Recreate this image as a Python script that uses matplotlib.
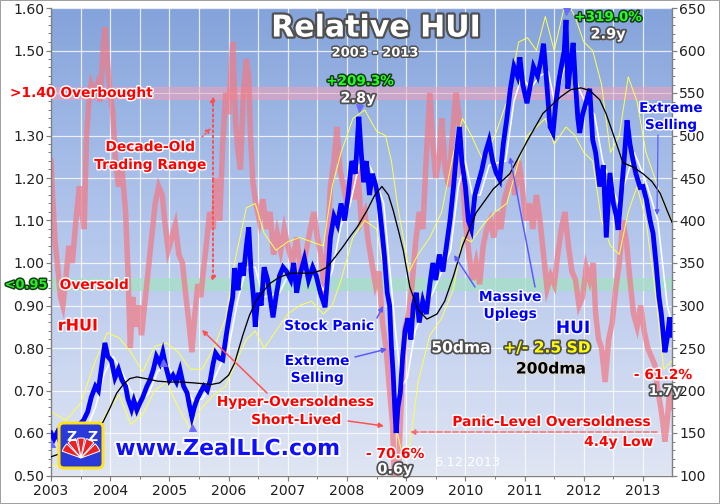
import numpy as np
import matplotlib
matplotlib.use('Agg')
import matplotlib.pyplot as plt
import matplotlib.patheffects as pe
from matplotlib.colors import LinearSegmentedColormap
from matplotlib.patches import FancyBboxPatch, Wedge
from matplotlib.transforms import IdentityTransform

plt.rcParams['font.family'] = 'DejaVu Sans'

# ---- data (decimal years) ----
hui_t = [2003.00, 2003.05, 2003.10, 2003.18, 2003.25, 2003.32, 2003.40, 2003.48, 2003.55, 2003.62,
         2003.68, 2003.75, 2003.80, 2003.85, 2003.91, 2003.96, 2004.02, 2004.08, 2004.14, 2004.20,
         2004.26, 2004.30, 2004.36, 2004.40, 2004.45, 2004.50, 2004.55, 2004.62, 2004.67, 2004.73,
         2004.78, 2004.84, 2004.89, 2004.94, 2005.00, 2005.06, 2005.12, 2005.18, 2005.24, 2005.30,
         2005.34, 2005.38, 2005.42, 2005.47, 2005.52, 2005.58, 2005.64, 2005.69, 2005.74, 2005.78,
         2005.84, 2005.90, 2005.96, 2006.02, 2006.07, 2006.10, 2006.13, 2006.16, 2006.20, 2006.25,
         2006.30, 2006.34, 2006.38, 2006.42, 2006.45, 2006.50, 2006.55, 2006.60, 2006.66, 2006.70,
         2006.75, 2006.80, 2006.86, 2006.92, 2006.98, 2007.05, 2007.10, 2007.15, 2007.20, 2007.28,
         2007.35, 2007.42, 2007.48, 2007.55, 2007.63, 2007.68, 2007.72, 2007.78, 2007.84, 2007.90,
         2007.96, 2008.02, 2008.08, 2008.14, 2008.20, 2008.24, 2008.28, 2008.33, 2008.38, 2008.43,
         2008.49, 2008.54, 2008.58, 2008.63, 2008.68, 2008.72, 2008.75, 2008.78, 2008.81, 2008.83,
         2008.86, 2008.90, 2008.94, 2008.98, 2009.03, 2009.08, 2009.12, 2009.17, 2009.22, 2009.28,
         2009.34, 2009.40, 2009.45, 2009.50, 2009.56, 2009.62, 2009.68, 2009.74, 2009.80, 2009.85,
         2009.90, 2009.94, 2010.00, 2010.05, 2010.10, 2010.16, 2010.22, 2010.28, 2010.34, 2010.40,
         2010.46, 2010.52, 2010.58, 2010.64, 2010.70, 2010.76, 2010.82, 2010.88, 2010.92, 2010.97,
         2011.04, 2011.10, 2011.15, 2011.22, 2011.28, 2011.32, 2011.37, 2011.43, 2011.48, 2011.53,
         2011.58, 2011.62, 2011.67, 2011.70, 2011.73, 2011.77, 2011.82, 2011.86, 2011.90, 2011.93,
         2011.98, 2012.05, 2012.10, 2012.15, 2012.20, 2012.27, 2012.33, 2012.38, 2012.44, 2012.50,
         2012.55, 2012.58, 2012.63, 2012.68, 2012.73, 2012.78, 2012.83, 2012.88, 2012.95, 2013.00,
         2013.06, 2013.12, 2013.17, 2013.22, 2013.27, 2013.31, 2013.34, 2013.37, 2013.41, 2013.45,
         2013.49]
hui_v = [150, 143, 150, 135, 125, 130, 140, 160, 165, 175,
         192, 205, 200, 225, 256, 240, 235, 215, 225, 212,
         205, 190, 178, 188, 177, 185, 192, 205, 212, 225,
         240, 232, 245, 228, 212, 218, 210, 224, 205, 197,
         182, 169, 180, 190, 197, 205, 200, 212, 232, 244,
         238, 236, 265, 291, 310, 344, 330, 318, 350, 335,
         370, 392, 340, 310, 275, 315, 300, 345, 330, 310,
         286, 310, 335, 345, 340, 330, 350, 315, 335, 355,
         330, 345, 335, 315, 298, 340, 380, 405, 395, 420,
         400, 430, 470, 455, 522, 480, 445, 470, 430, 455,
         440, 420, 395, 360, 315, 300, 252, 220, 175, 150,
         180, 197, 240, 270, 285, 260, 300, 315, 280, 305,
         290, 325, 350, 330, 360, 340, 370, 400, 440, 480,
         510, 470, 440, 400, 390, 430, 445, 460, 480, 494,
         470, 456, 448, 490, 520, 555, 581, 570, 592, 560,
         538, 560, 581, 570, 590, 608, 565, 510, 503, 540,
         565, 581, 600, 636, 555, 580, 609, 560, 520, 503,
         525, 542, 555, 495, 480, 440, 465, 380, 456, 420,
         405, 389, 430, 470, 518, 490, 471, 455, 439, 440,
         424, 400, 385, 350, 310, 290, 268, 245, 262, 286,
         265]

rhui_t = [2003.00, 2003.03, 2003.07, 2003.12, 2003.16, 2003.20, 2003.25, 2003.30, 2003.36, 2003.42,
          2003.48, 2003.52, 2003.56, 2003.60, 2003.64, 2003.68, 2003.73, 2003.78, 2003.83, 2003.88,
          2003.91, 2003.95, 2004.00, 2004.04, 2004.09, 2004.14, 2004.20, 2004.26, 2004.30, 2004.34,
          2004.38, 2004.43, 2004.48, 2004.53, 2004.58, 2004.64, 2004.70, 2004.76, 2004.82, 2004.88,
          2004.92, 2004.98, 2005.04, 2005.10, 2005.16, 2005.22, 2005.28, 2005.33, 2005.38, 2005.43,
          2005.48, 2005.53, 2005.58, 2005.63, 2005.68, 2005.74, 2005.79, 2005.85, 2005.90, 2005.95,
          2006.00, 2006.04, 2006.07, 2006.12, 2006.16, 2006.20, 2006.25, 2006.30, 2006.34, 2006.37,
          2006.41, 2006.46, 2006.52, 2006.58, 2006.64, 2006.70, 2006.76, 2006.82, 2006.88, 2006.94,
          2007.00, 2007.08, 2007.15, 2007.22, 2007.30, 2007.38, 2007.44, 2007.50, 2007.56, 2007.62,
          2007.67, 2007.72, 2007.78, 2007.83, 2007.88, 2007.94, 2008.00, 2008.06, 2008.12, 2008.18,
          2008.24, 2008.30, 2008.36, 2008.42, 2008.48, 2008.54, 2008.60, 2008.66, 2008.72, 2008.77,
          2008.81, 2008.84, 2008.88, 2008.93, 2008.98, 2009.04, 2009.10, 2009.16, 2009.22, 2009.28,
          2009.34, 2009.40, 2009.45, 2009.50, 2009.56, 2009.60, 2009.66, 2009.72, 2009.78, 2009.84,
          2009.89, 2009.94, 2010.00, 2010.06, 2010.12, 2010.18, 2010.24, 2010.30, 2010.36, 2010.42,
          2010.48, 2010.54, 2010.60, 2010.66, 2010.72, 2010.78, 2010.84, 2010.90, 2010.96, 2011.02,
          2011.08, 2011.14, 2011.20, 2011.26, 2011.32, 2011.38, 2011.44, 2011.50, 2011.56, 2011.62,
          2011.68, 2011.74, 2011.80, 2011.86, 2011.92, 2011.98, 2012.04, 2012.10, 2012.16, 2012.20,
          2012.25, 2012.30, 2012.36, 2012.42, 2012.48, 2012.54, 2012.60, 2012.66, 2012.72, 2012.78,
          2012.84, 2012.90, 2012.96, 2013.02, 2013.08, 2013.14, 2013.20, 2013.25, 2013.30, 2013.34,
          2013.37, 2013.41, 2013.45, 2013.49]
rhui_v = [1.24, 1.15, 1.05, 0.98, 0.92, 0.90, 0.96, 1.04, 1.00, 1.10,
          1.18, 1.12, 1.08, 1.30, 1.38, 1.42, 1.40, 1.42, 1.38, 1.50,
          1.555, 1.48, 1.40, 1.36, 1.24, 1.18, 1.22, 1.12, 0.98, 0.80,
          0.92, 0.85, 0.90, 0.83, 0.90, 0.98, 1.06, 1.14, 1.18, 1.16,
          1.10, 1.03, 1.06, 1.09, 1.02, 1.00, 0.92, 0.86, 0.79, 0.88,
          0.95, 0.92, 0.99, 1.05, 1.12, 1.08, 1.20, 1.10, 1.28, 1.40,
          1.35, 1.45, 1.52, 1.33, 1.26, 1.22, 1.40, 1.48, 1.44, 1.30,
          1.19, 1.14, 1.10, 1.15, 1.08, 1.12, 1.02, 1.07, 1.03, 1.08,
          1.04, 1.00, 1.06, 0.98, 1.02, 1.08, 1.12, 1.06, 1.02, 0.92,
          1.05, 1.18, 1.24, 1.32, 1.22, 1.18, 1.14, 1.20, 1.15, 1.22,
          1.10, 1.12, 1.05, 1.00, 0.95, 0.98, 0.86, 0.80, 0.70, 0.62,
          0.45, 0.40, 0.55, 0.72, 0.85, 0.88, 0.95, 1.05, 1.12, 1.08,
          1.25, 1.40, 1.28, 1.20, 1.25, 1.34, 1.22, 1.18, 1.30, 1.40,
          1.35, 1.22, 1.10, 1.02, 0.96, 1.00, 0.95, 1.04, 1.08, 1.10,
          1.06, 1.12, 1.08, 1.15, 1.18, 1.20, 1.16, 1.24, 1.18, 1.10,
          1.14, 1.08, 1.16, 1.10, 1.02, 0.94, 0.97, 0.95, 1.02, 1.08,
          1.12, 1.04, 0.98, 0.96, 0.90, 0.92, 0.99, 0.96, 1.00, 0.88,
          0.82, 0.80, 0.72, 0.82, 0.86, 0.94, 1.00, 1.10, 1.05, 0.96,
          0.88, 0.85, 0.90, 0.84, 0.80, 0.78, 0.76, 0.70, 0.66, 0.62,
          0.58, 0.63, 0.70, 0.66]

ma50_t = [2003.00, 2003.15, 2003.30, 2003.45, 2003.60, 2003.75, 2003.90, 2004.05, 2004.20, 2004.35,
          2004.50, 2004.65, 2004.80, 2004.95, 2005.10, 2005.25, 2005.40, 2005.55, 2005.70, 2005.85,
          2006.00, 2006.15, 2006.30, 2006.45, 2006.58, 2006.72, 2006.86, 2007.00, 2007.15, 2007.30,
          2007.45, 2007.60, 2007.75, 2007.90, 2008.05, 2008.20, 2008.35, 2008.50, 2008.62, 2008.72,
          2008.82, 2008.92, 2009.02, 2009.15, 2009.30, 2009.45, 2009.60, 2009.75, 2009.88, 2010.00,
          2010.12, 2010.25, 2010.40, 2010.55, 2010.68, 2010.82, 2010.95, 2011.10, 2011.25, 2011.40,
          2011.52, 2011.65, 2011.78, 2011.92, 2012.05, 2012.18, 2012.32, 2012.45, 2012.58, 2012.72,
          2012.85, 2013.00, 2013.12, 2013.25, 2013.33, 2013.41, 2013.49]
ma50_v = [148, 145, 133, 135, 155, 180, 220, 240, 222, 200,
          185, 197, 222, 232, 215, 208, 188, 190, 205, 228,
          250, 305, 345, 345, 310, 312, 315, 335, 335, 338,
          338, 318, 340, 395, 418, 465, 470, 445, 420, 345,
          270, 205, 215, 270, 295, 315, 340, 365, 440, 470,
          430, 430, 465, 468, 470, 540, 570, 555, 570, 575,
          535, 575, 595, 555, 535, 525, 470, 445, 420, 450,
          480, 455, 430, 400, 350, 300, 278]

ma200_t = [2003.00, 2003.25, 2003.50, 2003.70, 2003.88, 2004.00, 2004.11, 2004.22, 2004.33, 2004.45,
           2004.60, 2004.80, 2005.00, 2005.20, 2005.40, 2005.57, 2005.70, 2005.85, 2006.00, 2006.10,
           2006.24, 2006.35, 2006.47, 2006.60, 2006.70, 2006.85, 2007.04, 2007.20, 2007.38, 2007.55,
           2007.66, 2007.80, 2007.93, 2008.05, 2008.17, 2008.34, 2008.47, 2008.59, 2008.70, 2008.78,
           2008.88, 2008.95, 2009.06, 2009.20, 2009.35, 2009.52, 2009.65, 2009.80, 2009.95, 2010.18,
           2010.47, 2010.75, 2011.04, 2011.31, 2011.60, 2011.78, 2011.95, 2012.10, 2012.27, 2012.38,
           2012.49, 2012.66, 2012.83, 2013.00, 2013.15, 2013.29, 2013.40, 2013.49]
ma200_v = [122, 128, 140, 150, 163, 180, 197, 207, 214, 216,
           214, 211, 210, 210, 209, 208, 207, 209, 218, 232,
           265, 288, 306, 318, 326, 333, 338, 338, 338, 341,
           345, 357, 369, 381, 392, 412, 430, 440, 430, 412,
           385, 365, 322, 295, 284, 290, 305, 335, 370, 409,
           437, 455, 493, 526, 545, 554, 556, 553, 542, 525,
           503, 468, 463, 455, 446, 432, 413, 398]

band_t = [2003.00, 2003.25, 2003.50, 2003.75, 2003.95, 2004.15, 2004.35, 2004.55, 2004.75, 2004.95,
          2005.15, 2005.35, 2005.55, 2005.75, 2005.95, 2006.10, 2006.30, 2006.45, 2006.60, 2006.80,
          2007.00, 2007.20, 2007.40, 2007.60, 2007.75, 2007.90, 2008.10, 2008.30, 2008.50, 2008.65,
          2008.75, 2008.85, 2008.95, 2009.05, 2009.20, 2009.40, 2009.60, 2009.80, 2009.95, 2010.10,
          2010.30, 2010.50, 2010.70, 2010.90, 2011.05, 2011.20, 2011.35, 2011.50, 2011.70, 2011.85,
          2012.00, 2012.15, 2012.30, 2012.45, 2012.60, 2012.75, 2012.90, 2013.05, 2013.20, 2013.35,
          2013.49]
band_hi = [175, 165, 185, 235, 268, 262, 245, 222, 252, 256,
           245, 225, 225, 250, 285, 350, 415, 420, 385, 365,
           375, 380, 375, 370, 440, 480, 520, 530, 505, 500,
           470, 420, 380, 340, 360, 380, 410, 480, 520, 500,
           470, 500, 540, 610, 615, 600, 640, 600, 660, 640,
           610, 600, 560, 480, 500, 569, 540, 480, 450, 420,
           400]
band_lo = [112, 110, 130, 150, 175, 195, 160, 172, 200, 210,
           180, 155, 180, 195, 205, 230, 260, 270, 250, 270,
           290, 300, 305, 290, 300, 330, 380, 400, 390, 330,
           250, 150, 120, 130, 210, 265, 285, 320, 380, 375,
           395, 410, 420, 470, 500, 510, 520, 490, 510, 500,
           480, 470, 400, 370, 360, 410, 440, 400, 320, 225,
           235]

years = list(range(2003, 2014))
left_ticks = [1.60, 1.50, 1.40, 1.30, 1.20, 1.10, 1.00, 0.90, 0.80, 0.70, 0.60, 0.50]
right_ticks = [650, 600, 550, 500, 450, 400, 350, 300, 250, 200, 150, 100]

W, H = 720, 504
fig = plt.figure(figsize=(10, 7), dpi=72)
fig.patch.set_facecolor('white')
fig.patch.set_edgecolor('#a0a0a0')
fig.patch.set_linewidth(2)

ax = fig.add_axes([51 / W, 28.5 / H, 621 / W, 467.5 / H])
ax2 = ax.twinx()

# background gradient
cmap = LinearSegmentedColormap.from_list('bg', ['#84a3db', '#a6bde8', '#c3d1ef', '#dfe5f3'])
ax.imshow(np.linspace(0, 1, 256).reshape(-1, 1), cmap=cmap, aspect='auto',
          extent=[0, 1, 0, 1], transform=ax.transAxes, zorder=0)

ax.set_xlim(2003, 2013.49)
ax.set_ylim(0.5, 1.6)
ax2.set_ylim(100, 650)

for yv in np.arange(0.5, 1.61, 0.1):
    ax.axhline(yv, color='white', lw=1.2, alpha=0.8, zorder=1)
for xv in np.arange(2003.5, 2013.5, 0.5):
    ax.axvline(xv, color='white', lw=1.2, alpha=0.8, zorder=1)

ax.axhspan(1.385, 1.415, color='#f0a0b8', alpha=0.55, zorder=1.5)
ax.axhspan(0.937, 0.965, color='#a6e0c6', alpha=0.75, zorder=1.5)

ax.plot(rhui_t, rhui_v, color='#f07a85', lw=5.5, alpha=0.72, zorder=2, solid_joinstyle='miter')

ax2.plot(band_t, band_hi, color='#ffff50', lw=1.0, zorder=2)
ax2.plot(band_t, band_lo, color='#ffff50', lw=1.0, zorder=2)
ax2.plot(ma50_t, ma50_v, color='white', lw=1.6, zorder=3)
ax2.plot(hui_t, hui_v, color='#0000ff', lw=4.8, zorder=4, solid_joinstyle='miter')
ax2.plot(ma200_t, ma200_v, color='black', lw=1.3, zorder=5)

# peak / trough markers
mk = '#6a6aff'
ipk1 = hui_v.index(522)
ipk2 = hui_v.index(636)
ax2.plot(hui_t[ipk1], hui_v[ipk1] + 10, marker='v', color=mk, ms=7, zorder=6)
ax2.plot(hui_t[ipk2], hui_v[ipk2] + 10, marker='v', color=mk, ms=7, zorder=6)
for val in (169, 150, 245):
    i = hui_v.index(val)
    ax2.plot(hui_t[i], hui_v[i] - 12, marker='^', color=mk, ms=7, zorder=6)

# axes styling
ax.set_xticks(years)
ax.set_xticklabels([str(y) for y in years])
ax.set_xticks(np.arange(2003.5, 2013.5, 1.0), minor=True)
ax.set_yticks(left_ticks)
ax.set_yticklabels(['%.2f' % v if abs(v - 1.40) > 1e-6 else '' for v in left_ticks])
ax.set_yticks(np.arange(0.5, 1.6, 0.02), minor=True)
ax2.set_yticks(right_ticks)
ax2.set_yticks(np.arange(100, 650, 10), minor=True)
for a in (ax, ax2):
    a.tick_params(which='major', length=5, width=1.2, color='#808080', labelsize=14,
                  labelcolor='#202020')
    a.tick_params(which='minor', length=3, width=1, color='#808080')
    for s in a.spines.values():
        s.set_color('#808080')
        s.set_linewidth(1.2)
    a.spines['top'].set_visible(False)
ax.tick_params(axis='y', pad=2)
ax2.tick_params(axis='y', pad=2)


def fx(x, y):
    return x / W, 1 - y / H


def label(x, y, s, color, size, stroke='white', sw=3, weight='bold', ha='center'):
    fig.text(*fx(x, y), s, color=color, fontsize=size, fontweight=weight, ha=ha, va='center',
             zorder=20, path_effects=[pe.withStroke(linewidth=sw, foreground=stroke)])


def arrow(x0, y0, x1, y1, color, ls='-', lw=1.5, style='-|>'):
    ax2.annotate('', xy=(x1, H - y1), xycoords='figure pixels',
                 xytext=(x0, H - y0), textcoords='figure pixels',
                 arrowprops=dict(arrowstyle=style, color=color, lw=lw, ls=ls,
                                 mutation_scale=10, shrinkA=0, shrinkB=0), zorder=15)


red = '#ff0000'
blue = '#0000ff'
dark = '#505050'
ts = 13.8

# title
label(376, 28, 'Relative HUI', 'white', 30, stroke=dark, sw=4.5)
label(375, 53, '2003 - 2013', 'white', 13, stroke=dark, sw=3)

label(81, 93, '>1.40 Overbought', red, ts)
label(26, 285, '<0.95', '#22ee22', 13, stroke='#1a3a1a', sw=3)
label(94, 285, 'Oversold', red, ts)
label(150, 147, 'Decade-Old', red, ts)
label(150, 165, 'Trading Range', red, ts)
arrow(213, 180, 213, 96, '#ff5050', ls=':', lw=2)
arrow(213, 180, 213, 282, '#ff5050', ls=':', lw=2)
arrow(202, 137, 211, 128, '#ff5050', ls=':', lw=1.5)
label(78, 326, 'rHUI', red, 16)

label(329, 326, 'Stock Panic', blue, ts)
arrow(377, 318, 383, 306, '#5a5aff')
label(317, 361, 'Extreme', blue, ts)
label(317, 378, 'Selling', blue, ts)
arrow(355, 357, 387, 349, '#5a5aff')
label(295, 402, 'Hyper-Oversoldness', red, ts)
label(296, 420, 'Short-Lived', red, ts)
arrow(267, 393, 202, 330, '#ff5050')
arrow(348, 421, 384, 426, '#ff5050')

label(510, 297, 'Massive', blue, ts)
label(510, 314, 'Uplegs', blue, ts)
arrow(475, 287, 454, 255, '#5a5aff')
arrow(535, 287, 510, 157, '#5a5aff')
label(573, 328, 'HUI', blue, 17)
label(461, 348, '50dma', 'white', 15.5, stroke=dark, sw=3.5)
label(547, 348, '+/- 2.5 SD', '#ffff00', 15.5, stroke=dark, sw=3.5)
label(551, 369, '200dma', 'black', 15.5, stroke='#d8d8d8', sw=3.5)

label(360, 81, '+209.3%', '#22ff22', 13.5, stroke='#1a3a1a', sw=3)
label(358, 98, '2.8y', 'white', 14.5, stroke=dark, sw=3.5)
label(608, 17, '+319.0%', '#22ff22', 13.5, stroke='#1a3a1a', sw=3)
label(608, 34, '2.9y', 'white', 14.5, stroke=dark, sw=3.5)
label(395, 454, '- 70.6%', red, ts)
label(395, 469, '0.6y', 'white', 14.5, stroke=dark, sw=3.5)
label(663, 375, '- 61.2%', red, ts)
label(665, 391, '1.7y', 'white', 13.5, stroke=dark, sw=3.5)

label(671, 108, 'Extreme', blue, 13.5)
label(671, 125, 'Selling', blue, 13.5)
arrow(658, 135, 657, 215, '#5a5aff', lw=1.2)

label(551, 422, 'Panic-Level Oversoldness', red, ts)
label(653, 442, '4.4y Low', red, ts, ha='right')
arrow(657, 432, 410, 432, '#ff6a6a', ls='--', lw=1.5)

fig.text(*fx(467, 463), '6.12.2013', color='white', fontsize=13, ha='center', va='center', zorder=20)
label(228, 449, 'www.ZealLLC.com', '#1010ff', 22, stroke='white', sw=4)

# logo
idt = IdentityTransform()
fig.add_artist(FancyBboxPatch((59, H - 468), 44, 45, boxstyle='round,pad=0,rounding_size=5',
                              facecolor='#2a3ad8', edgecolor='#ffe21a', lw=3, transform=idt, zorder=18))
for a0, a1 in [(20, 45), (50, 75), (80, 100), (105, 130), (135, 160)]:
    fig.add_artist(Wedge((81, H - 458), 20, a0, a1, facecolor='#ee2020', edgecolor='white',
                         lw=1, transform=idt, zorder=19))
fig.text(*fx(71, 437), 'Z', color='white', fontsize=14, fontweight='bold', ha='center', va='center', zorder=20)
fig.text(*fx(92, 437), 'Z', color='white', fontsize=14, fontweight='bold', ha='center', va='center', zorder=20)

fig.savefig('out.png', dpi=72)
